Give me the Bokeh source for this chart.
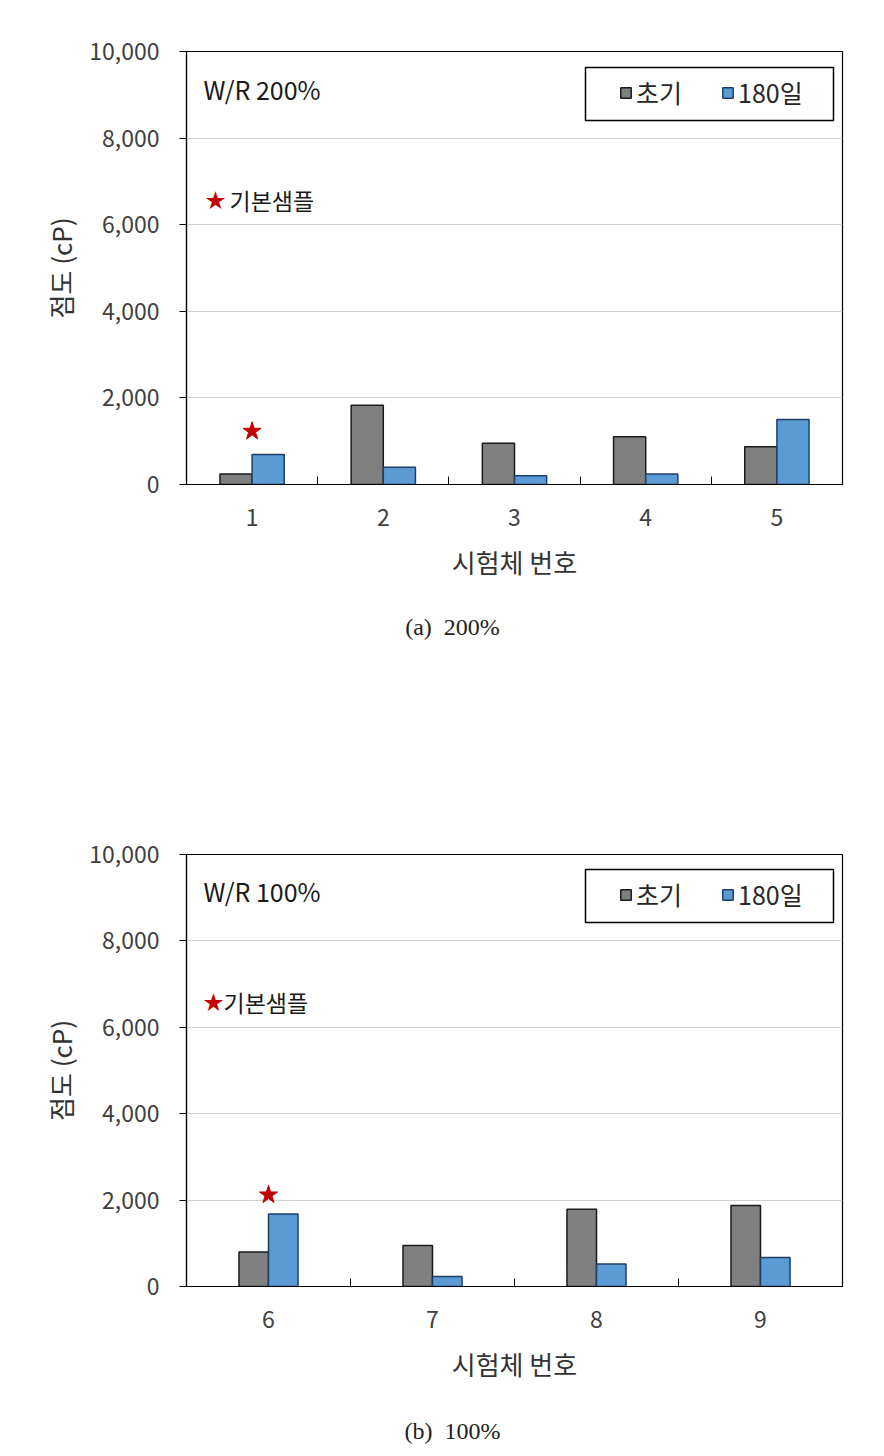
from bokeh.plotting import figure
from bokeh.models import (Range1d, FixedTicker, Legend, LegendItem, Label,
                          ColumnDataSource, BoxAnnotation)
from bokeh.layouts import column
from bokeh.embed import file_html
from bokeh.resources import INLINE

# ---------------- data ----------------
top_categories = ["1", "2", "3", "4", "5"]
top_initial = [240, 1830, 950, 1100, 870]
top_day180 = [690, 400, 200, 240, 1500]
top_star_category = ["1"]
top_star_value = [1230]

bottom_categories = ["6", "7", "8", "9"]
bottom_initial = [800, 950, 1790, 1875]
bottom_day180 = [1680, 230, 520, 670]
bottom_star_category = ["6"]
bottom_star_value = [2120]

y_ticks = [0, 2000, 4000, 6000, 8000, 10000]
y_tick_labels = ["0", "2,000", "4,000", "6,000", "8,000", "10,000"]
series_names = ["초기", "180일"]
panel_notes = ["W/R 200%", "W/R 100%"]
captions = ["(a)\u00a0\u00a0200%", "(b)\u00a0\u00a0100%"]
star_note = "기본샘플"
x_title = "시험체 번호"
y_title = "점도 (cP)"

KR = "Noto Sans CJK KR"
GRAY = "#808080"
BLUE = "#5b9bd5"
STAR = "#c00000"
W = 868


def make_chart(categories, initial, day180, star_cat, star_val, note,
               bar_w, height, frame_h, star_note_x, star_note_text_x):
    n = len(categories)
    pos = [i + 1 for i in range(n)]
    src = ColumnDataSource(dict(
        x_init=[p_ - bar_w / 2 for p_ in pos],
        x_180=[p_ + bar_w / 2 for p_ in pos],
        init=initial, d180=day180))
    p = figure(width=W, height=height, output_backend="svg", toolbar_location=None,
               x_range=Range1d(0.5, n + 0.5), y_range=Range1d(0, 10000),
               min_border_left=186, min_border_right=26, min_border_top=51,
               min_border_bottom=height - 51 - frame_h)
    p.outline_line_color = "black"
    p.outline_line_width = 1.2
    p.background_fill_color = "white"
    p.border_fill_color = "white"

    r1 = p.vbar(x="x_init", top="init", width=bar_w, source=src,
                fill_color=GRAY, line_color="#1a1a1a", line_width=1.5)
    r2 = p.vbar(x="x_180", top="d180", width=bar_w, source=src,
                fill_color=BLUE, line_color="#1f3f66", line_width=1.5)

    star_x = [categories.index(c) + 1 for c in star_cat]
    p.scatter(x=star_x, y=star_val, marker="star", size=19,
              fill_color=STAR, line_color=STAR)

    # axes
    xa = p.xaxis[0]
    xa.ticker = FixedTicker(ticks=pos, minor_ticks=[i + 0.5 for i in range(n + 1)])
    xa.major_label_overrides = {p_: c for p_, c in zip(pos, categories)}
    xa.major_tick_in = 0
    xa.major_tick_out = 0
    xa.minor_tick_in = 8
    xa.minor_tick_out = 0
    xa.minor_tick_line_color = "black"
    xa.axis_line_color = "black"
    xa.axis_line_width = 1.2
    xa.major_label_text_font = KR
    xa.major_label_text_font_size = "23px"
    xa.major_label_text_color = "#404040"
    xa.major_label_standoff = 24
    xa.axis_label = x_title
    xa.axis_label_text_font = KR
    xa.axis_label_text_font_size = "26px"
    xa.axis_label_text_font_style = "normal"
    xa.axis_label_text_color = "#333333"
    xa.axis_label_standoff = 14

    ya = p.yaxis[0]
    ya.ticker = FixedTicker(ticks=y_ticks)
    ya.major_label_overrides = {t: l for t, l in zip(y_ticks, y_tick_labels)}
    ya.major_tick_in = 0
    ya.major_tick_out = 7
    ya.minor_tick_line_color = None
    ya.major_tick_line_color = "black"
    ya.axis_line_color = "black"
    ya.axis_line_width = 1.2
    ya.major_label_text_font = KR
    ya.major_label_text_font_size = "23px"
    ya.major_label_text_color = "#404040"
    ya.major_label_standoff = 20
    ya.axis_label = y_title
    ya.axis_label_text_font = KR
    ya.axis_label_text_font_size = "26px"
    ya.axis_label_text_font_style = "normal"
    ya.axis_label_text_color = "#333333"
    ya.axis_label_standoff = 7

    p.xgrid.grid_line_color = None
    p.ygrid.grid_line_color = "#d0d0d0"
    p.ygrid.grid_line_width = 1.2

    # legend box + legend
    p.add_layout(BoxAnnotation(left=399, right=647, bottom=364, top=417,
                               left_units="screen", right_units="screen",
                               bottom_units="screen", top_units="screen",
                               fill_color="white", fill_alpha=1.0,
                               line_color="black", line_alpha=1.0, line_width=1.5,
                               level="annotation"))
    legend = Legend(items=[LegendItem(label=series_names[0], renderers=[r1]),
                           LegendItem(label=series_names[1], renderers=[r2])],
                    location=(433, 374), orientation="horizontal",
                    border_line_color=None, background_fill_alpha=0.0,
                    padding=0, margin=0, spacing=39, glyph_width=13, glyph_height=13,
                    label_standoff=4, label_text_font=KR, label_text_font_size="25px",
                    label_text_color="#262626", label_height=28)
    p.add_layout(legend)

    p.add_layout(Label(x=17, y=396, x_units="screen", y_units="screen", text=note,
                       text_font=KR, text_font_size="25px", text_color="#1a1a1a",
                       text_baseline="middle", text_align="left"))
    p.add_layout(Label(x=star_note_x, y=285, x_units="screen", y_units="screen", text="★",
                       text_font=KR, text_font_size="20px", text_color=STAR,
                       text_baseline="middle", text_align="center"))
    p.add_layout(Label(x=star_note_text_x, y=285, x_units="screen", y_units="screen",
                       text=star_note, text_font=KR, text_font_size="23px",
                       text_color="#1a1a1a", text_baseline="middle", text_align="left"))
    return p


def make_caption(text, height, y_from_bottom):
    c = figure(width=W, height=height, output_backend="svg", toolbar_location=None,
               x_range=Range1d(0, 1), y_range=Range1d(0, 1),
               x_axis_type=None, y_axis_type=None, min_border=0)
    c.outline_line_color = None
    c.xgrid.grid_line_color = None
    c.ygrid.grid_line_color = None
    # the column aligns this frame with the chart frames (left edge at 186 px)
    c.add_layout(Label(x=266, y=y_from_bottom, x_units="screen", y_units="screen",
                       text=text, text_font="Liberation Serif", text_font_size="24px",
                       text_color="#222222", text_baseline="middle", text_align="center"))
    return c


p1 = make_chart(top_categories, top_initial, top_day180, top_star_category, top_star_value,
                panel_notes[0], 0.245, 600, 433, 29, 43)
c1 = make_caption(captions[0], 203, 177)
p2 = make_chart(bottom_categories, bottom_initial, bottom_day180, bottom_star_category,
                bottom_star_value, panel_notes[1], 0.18, 600, 432, 27, 37)
c2 = make_caption(captions[1], 45, 18)

layout = column(p1, c1, p2, c2, spacing=0)
open("out.html", "w").write(file_html(layout, INLINE))
